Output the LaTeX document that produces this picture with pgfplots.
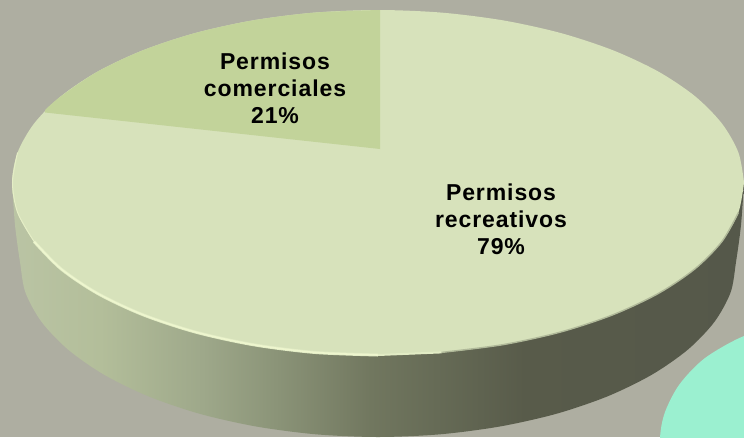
\documentclass[border=0pt]{standalone}
\usepackage{fontspec}
\setmainfont{Liberation Sans}
\newfontfamily\lab[LetterSpace=4]{Liberation Sans Bold}
\usepackage{pgfplots}
\pgfplotsset{compat=1.18}
\definecolor{bg}{HTML}{AEAEA1}
\definecolor{mint}{HTML}{9BF0D0}
\definecolor{big}{HTML}{D7E2BB}
\definecolor{small}{HTML}{C2D39A}
\definecolor{rim}{HTML}{EEF6CE}
\definecolor{sa}{HTML}{BAC4A4}
\definecolor{sb}{HTML}{B3BE9A}
\definecolor{sc}{HTML}{9EA88A}
\definecolor{sd}{HTML}{8B9478}
\definecolor{se}{HTML}{71775F}
\definecolor{sf}{HTML}{666B56}
\definecolor{sg}{HTML}{585B4A}
\definecolor{sh}{HTML}{55584A}
% x -> 25bp+50bp*(x-13)/731
\pgfdeclarehorizontalshading{sideshade}{100bp}{
 color(0bp)=(sa);
 color(25bp)=(sa);
 color(31bp)=(sb);
 color(38bp)=(sc);
 color(43bp)=(sd);
 color(49.5bp)=(se);
 color(54bp)=(sf);
 color(60bp)=(sg);
 color(75bp)=(sh);
 color(100bp)=(sh)}
\begin{document}
\begin{tikzpicture}
\begin{axis}[
  width=744pt,height=437pt,scale only axis,axis lines=none,
  xmin=0,xmax=744,ymin=0,ymax=437,y dir=reverse,clip=true]
% background
\addplot[fill=bg,draw=none] coordinates {(0,0)(744,0)(744,437)(0,437)} -- cycle;
% mint ellipse corner
\addplot[fill=mint,draw=none,smooth] coordinates {(800,330)(775,331)(744,336)(705,358)(679,385)(664,415)(660,445)(668,480)(700,510)(800,510)} -- cycle;
% side wall
\addplot[shading=sideshade,draw=none,smooth] coordinates {
 (744,182.5)(741,225)(736,262)(730.6,292.4)(714.4,321.9)(688,349.5)(652.2,374.5)(608.1,396.1)(557,413.6)(500.4,426.4)(440.2,434.3)(378,437)(315.8,434.3)(255.6,426.4)(199,413.6)(147.9,396.1)(103.8,374.5)(68,349.5)(41.6,321.9)(25.4,292.4)(20,262)(15,225)(12,182.5)} -- cycle;
% top disc: 79 %
\addplot[fill=big,draw=none,smooth] coordinates {
 (744,182.5)(738.4,212.5)(721.9,241.5)(695,268.8)(658.4,293.4)(613.3,314.6)(561,331.9)(503.2,344.6)(441.5,352.4)(378,355)(314.5,352.4)(252.8,344.6)(195,331.9)(142.7,314.6)(97.6,293.4)(61,268.8)(34.1,241.5)(17.6,212.5)(12,182.5)(17.6,152.5)(34.1,123.5)(61,96.2)(97.6,71.6)(142.7,50.4)(195,33.1)(252.8,20.4)(314.5,12.6)(378,10)(441.5,12.6)(503.2,20.4)(561,33.1)(613.3,50.4)(658.4,71.6)(695,96.2)(721.9,123.5)(738.4,152.5)(744,182.5)};
% front edge blur on the dark side
\addplot[color=big!70!sh,line width=1.4pt,smooth] coordinates {(441.5,352.4)(503.2,344.6)(561,331.9)(613.3,314.6)(658.4,293.4)(695,268.8)(721.9,241.5)(738.4,212.5)};
% highlight
\addplot[color=rim!60!big,line width=1pt,smooth] coordinates {(17.6,152.5)(12.5,182.5)(17.6,212.5)(34.1,241.5)};
\addplot[color=rim!50!big,line width=3pt,smooth] coordinates {(34.1,241.5)(61,268.8)(97.6,293.4)(142.7,314.6)(195,331.9)(252.8,344.6)(314.5,352.4)(378,355)};
\addplot[color=rim,line width=1.6pt,smooth] coordinates {(34.1,241.5)(61,268.8)(97.6,293.4)(142.7,314.6)(195,331.9)(252.8,344.6)(314.5,352.4)(378,355)};
\addplot[color=rim!50!big,line width=2pt,smooth] coordinates {(378,355)(441.5,352.4)};
% 21 % slice
\addplot[fill=small,draw=none,smooth] coordinates {
 (45,110)(61,96.2)(97.6,71.6)(142.7,50.4)(195,33.1)(252.8,20.4)(314.5,12.6)(380,10)} -- (axis cs:380,149) -- (axis cs:45,112.5) -- cycle;
% labels
\node[align=center,font=\lab\fontsize{23}{27}\selectfont,text=black] at (axis cs:275,88) {Permisos\\comerciales\\21\%};
\node[align=center,font=\lab\fontsize{23}{27}\selectfont,text=black] at (axis cs:501,219) {Permisos\\recreativos\\79\%};
\end{axis}
\end{tikzpicture}
\end{document}
